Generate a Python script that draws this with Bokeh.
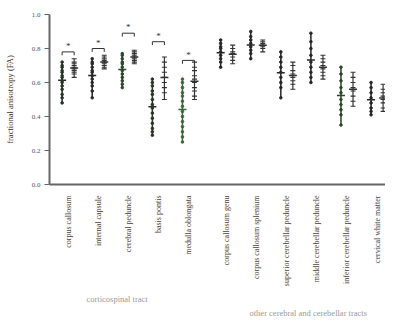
import numpy as np
from bokeh.plotting import figure
from bokeh.models import FixedTicker, Range1d, Title
from bokeh.core.properties import value
from bokeh.embed import file_html
from bokeh.resources import INLINE

regions = ["corpus callosum", "internal capsule", "cerebral peduncle", "basis pontis",
           "medulla oblongata", "corpus callosum genu", "corpus callosum splenium",
           "superior cerebellar peduncle", "middle cerebellar peduncle",
           "inferior cerebellar peduncle", "cervical white matter"]
group_names = ["corticospinal tract", "other cerebral and cerebellar tracts"]
group_of = [0, 0, 0, 0, 0, 1, 1, 1, 1, 1, 1]

left_vals = [
    [0.72, 0.70, 0.69, 0.67, 0.66, 0.64, 0.63, 0.61, 0.60, 0.58, 0.56, 0.53, 0.51, 0.48],
    [0.74, 0.72, 0.71, 0.69, 0.67, 0.66, 0.64, 0.62, 0.60, 0.58, 0.55, 0.51],
    [0.77, 0.76, 0.74, 0.72, 0.71, 0.69, 0.67, 0.65, 0.63, 0.61, 0.59, 0.57],
    [0.62, 0.60, 0.58, 0.55, 0.53, 0.50, 0.47, 0.45, 0.42, 0.39, 0.36, 0.33, 0.31, 0.29],
    [0.62, 0.60, 0.57, 0.54, 0.52, 0.49, 0.46, 0.43, 0.40, 0.37, 0.34, 0.31, 0.28, 0.25],
    [0.85, 0.83, 0.81, 0.80, 0.78, 0.76, 0.74, 0.72, 0.69],
    [0.90, 0.87, 0.85, 0.83, 0.81, 0.79, 0.77, 0.74],
    [0.78, 0.75, 0.72, 0.69, 0.66, 0.63, 0.60, 0.57, 0.51],
    [0.89, 0.84, 0.80, 0.76, 0.72, 0.69, 0.66, 0.63, 0.60],
    [0.69, 0.65, 0.61, 0.57, 0.54, 0.50, 0.47, 0.44, 0.41, 0.35],
    [0.60, 0.57, 0.54, 0.51, 0.48, 0.45, 0.43, 0.41],
]
right_vals = [
    [0.74, 0.72, 0.71, 0.70, 0.69, 0.68, 0.67, 0.66, 0.65, 0.63],
    [0.76, 0.75, 0.74, 0.73, 0.72, 0.71, 0.70, 0.69, 0.68],
    [0.79, 0.78, 0.77, 0.76, 0.75, 0.74, 0.73, 0.72, 0.71],
    [0.75, 0.72, 0.69, 0.66, 0.63, 0.60, 0.57, 0.54, 0.50],
    [0.72, 0.69, 0.67, 0.64, 0.62, 0.60, 0.57, 0.55, 0.52, 0.50],
    [0.82, 0.80, 0.78, 0.77, 0.75, 0.73, 0.71],
    [0.85, 0.84, 0.83, 0.82, 0.81, 0.80, 0.78],
    [0.72, 0.70, 0.67, 0.65, 0.63, 0.61, 0.59, 0.56],
    [0.76, 0.74, 0.72, 0.70, 0.68, 0.66, 0.64, 0.62],
    [0.66, 0.63, 0.60, 0.57, 0.55, 0.52, 0.49, 0.46],
    [0.59, 0.56, 0.54, 0.52, 0.50, 0.48, 0.45, 0.43],
]
sig_level = [0.78, 0.80, 0.89, 0.84, 0.73, None, None, None, None, None, None]
left_colors = ["#253525", "#262a26", "#2b472b", "#283428", "#3a683a",
               "#262626", "#262626", "#262626", "#262626", "#2b452b", "#262626"]
right_color = "#333333"

y_ticks = [0.0, 0.2, 0.4, 0.6, 0.8, 1.0]

FONT = "Liberation Serif"
GAP = 0.27
OFF = 0.2
pos = [i + GAP * g for i, g in enumerate(group_of)]

p = figure(width=385, height=318, output_backend="svg", toolbar_location=None,
           x_range=Range1d(-0.62, 10.55), y_range=Range1d(0, 1.0),
           min_border_left=49, min_border_right=0, min_border_top=14,
           min_border_bottom=134)
p.outline_line_color = None
p.xgrid.visible = False
p.ygrid.visible = False
p.background_fill_color = "white"

for i, x in enumerate(pos):
    lv = left_vals[i]
    rv = right_vals[i]
    xl = x - OFF
    xr = x + OFF
    p.segment(x0=[xl], y0=[min(lv)], x1=[xl], y1=[max(lv)], line_color=left_colors[i], line_width=1.5)
    p.scatter(x=[xl] * len(lv), y=lv, marker="circle", size=2.6,
              fill_color=left_colors[i], line_color=left_colors[i])
    p.scatter(x=[xl], y=[float(np.mean(lv))], marker="dash", size=8,
              line_color=left_colors[i], line_width=1.5)
    p.segment(x0=[xr], y0=[min(rv)], x1=[xr], y1=[max(rv)], line_color=right_color, line_width=1.2)
    p.scatter(x=[xr] * len(rv), y=rv, marker="dash", size=5,
              line_color=right_color, line_width=1.1)
    p.scatter(x=[xr], y=[float(np.mean(rv))], marker="dash", size=8,
              line_color=right_color, line_width=1.5)
    if sig_level[i] is not None:
        s = sig_level[i]
        p.segment(x0=[xl, xl, xr], y0=[s, s, s], x1=[xr, xl, xr], y1=[s, s - 0.02, s - 0.02],
                  line_color="#333333", line_width=1)
        p.text(x=[x], y=[s + 0.005], text=["*"], text_align="center",
               text_baseline="bottom", text_font_size="9px", text_color="#333333",
               text_font=value(FONT))

p.xaxis.ticker = FixedTicker(ticks=pos)
p.xaxis.major_label_overrides = {x: r for x, r in zip(pos, regions)}
p.xaxis.major_label_orientation = np.pi / 2
p.xaxis.major_tick_line_color = None
p.xaxis.minor_tick_line_color = None
p.xaxis.axis_line_color = "#666666"
p.xaxis.axis_line_width = 2
p.xaxis.major_label_text_font = FONT
p.xaxis.major_label_text_font_size = "8px"
p.xaxis.major_label_text_color = "#444444"
p.xaxis.major_label_standoff = 5

p.yaxis.ticker = FixedTicker(ticks=y_ticks)
p.yaxis.major_label_overrides = {t: f"{t:.1f}" for t in y_ticks}
p.yaxis.axis_label = "fractional anisotropy (FA)"
p.yaxis.axis_label_text_font = FONT
p.yaxis.axis_label_text_font_style = "normal"
p.yaxis.axis_label_text_font_size = "8.5px"
p.yaxis.axis_label_text_color = "#333333"
p.yaxis.axis_label_standoff = 14
p.yaxis.major_label_text_font = FONT
p.yaxis.major_label_text_font_size = "7px"
p.yaxis.major_label_text_color = "#555555"
p.yaxis.axis_line_color = "#666666"
p.yaxis.axis_line_width = 2
p.yaxis.major_tick_line_color = "#666666"
p.yaxis.major_tick_out = 5
p.yaxis.major_tick_in = 0
p.yaxis.minor_tick_line_color = None
p.yaxis.major_label_standoff = 4

p.add_layout(Title(text=group_names[0], align="left", offset=37, text_font=FONT,
                   text_font_size="8.5px", text_font_style="normal", text_color="#999999",
                   standoff=4), "below")
p.add_layout(Title(text=group_names[1], align="left", offset=200, text_font=FONT,
                   text_font_size="8.5px", text_font_style="normal", text_color="#999999",
                   standoff=0), "below")

open("out.html", "w").write(file_html(p, INLINE))
